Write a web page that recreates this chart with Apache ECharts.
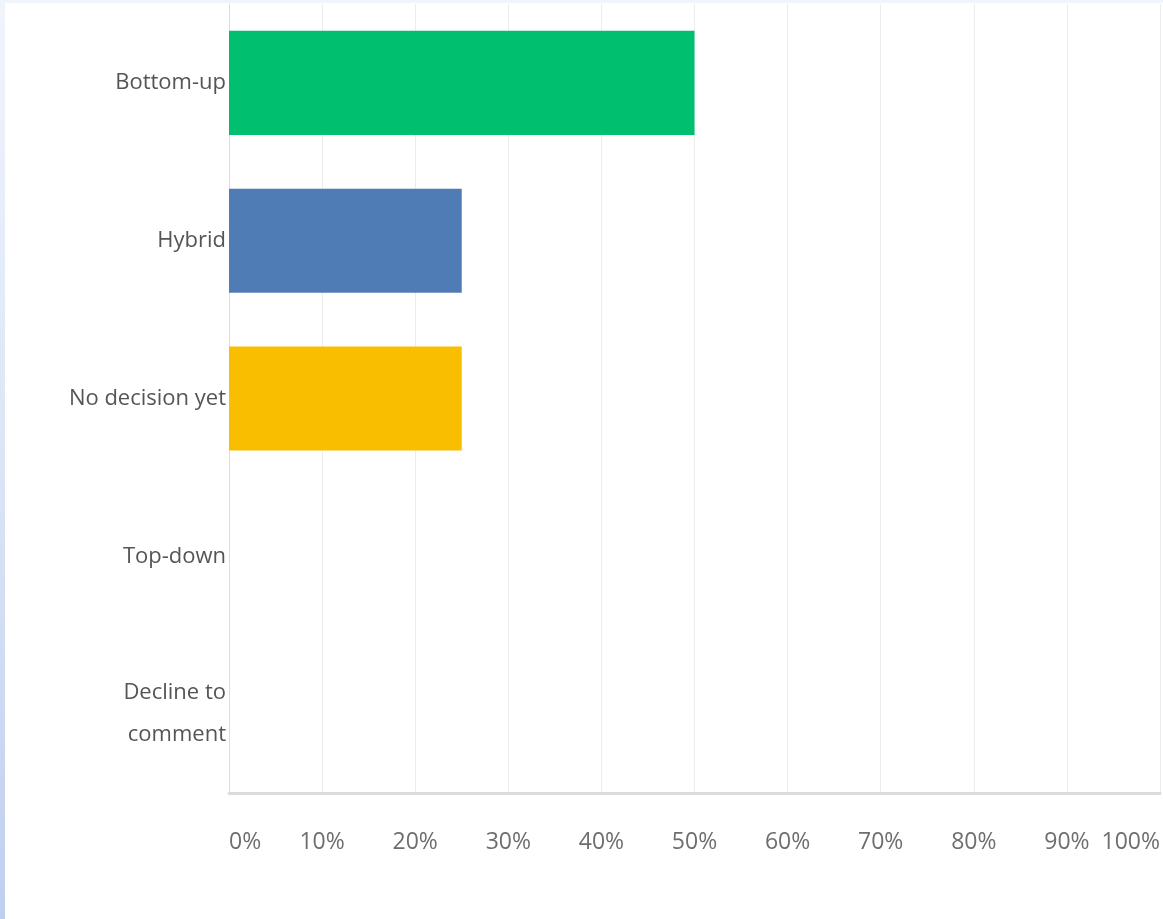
<!DOCTYPE html>
<html>
<head>
<meta charset="utf-8">
<script src="https://cdn.jsdelivr.net/npm/echarts@6/dist/echarts.min.js"></script>
<style>
html,body{margin:0;padding:0;width:1163px;height:919px;overflow:hidden;
background:linear-gradient(180deg,#f0f4fc 0%,#dce5f6 50%,#bfcfef 100%);}
#frame{position:absolute;left:5px;top:3px;width:1158px;height:916px;background:#ffffff;}
#chart{width:1158px;height:916px;}
</style>
</head>
<body>
<div id="frame"><div id="chart"></div></div>
<script>
const categories = ["Bottom-up", "Hybrid", "No decision yet", "Top-down", "Decline to\ncomment"];
const values = [50, 25, 25, 0, 0];
const barColors = ["#00bf6f", "#507cb6", "#f9be00", "#a5a5a5", "#6bc8cd"];
const tickLabels = ["0%", "10%", "20%", "30%", "40%", "50%", "60%", "70%", "80%", "90%", "100%"];

const chart = echarts.init(document.getElementById('chart'), null, {renderer: 'canvas'});
chart.setOption({
  animation: false,
  backgroundColor: '#ffffff',
  grid: {left: 224, right: 2, top: 1, bottom: 126, containLabel: false},
  xAxis: {
    type: 'value', min: 0, max: 100, interval: 10,
    axisLine: {show: true, onZero: false, lineStyle: {color: '#dcdcdc', width: 3}},
    axisTick: {show: false},
    splitLine: {show: true, lineStyle: {color: '#ececec', width: 1}},
    axisLabel: {
      margin: 38, color: '#6e6e6e', fontSize: 23, fontFamily: 'Open Sans, sans-serif',
      alignMinLabel: 'left', alignMaxLabel: 'right',
      formatter: function (v) { return tickLabels[Math.round(v / 10)]; }
    }
  },
  yAxis: {
    type: 'category', data: categories, inverse: true,
    axisLine: {show: true, lineStyle: {color: '#dcdcdc', width: 1}},
    axisTick: {show: false},
    axisLabel: {
      margin: 3, color: '#555555', fontSize: 22, fontFamily: 'Open Sans, sans-serif',
      lineHeight: 42, align: 'right', padding: [6, 0, 0, 0]
    }
  },
  series: [{
    type: 'bar',
    data: values.map((v, i) => ({value: v, itemStyle: {color: barColors[i]}})),
    barCategoryGap: '34%'
  }]
});
</script>
</body>
</html>
